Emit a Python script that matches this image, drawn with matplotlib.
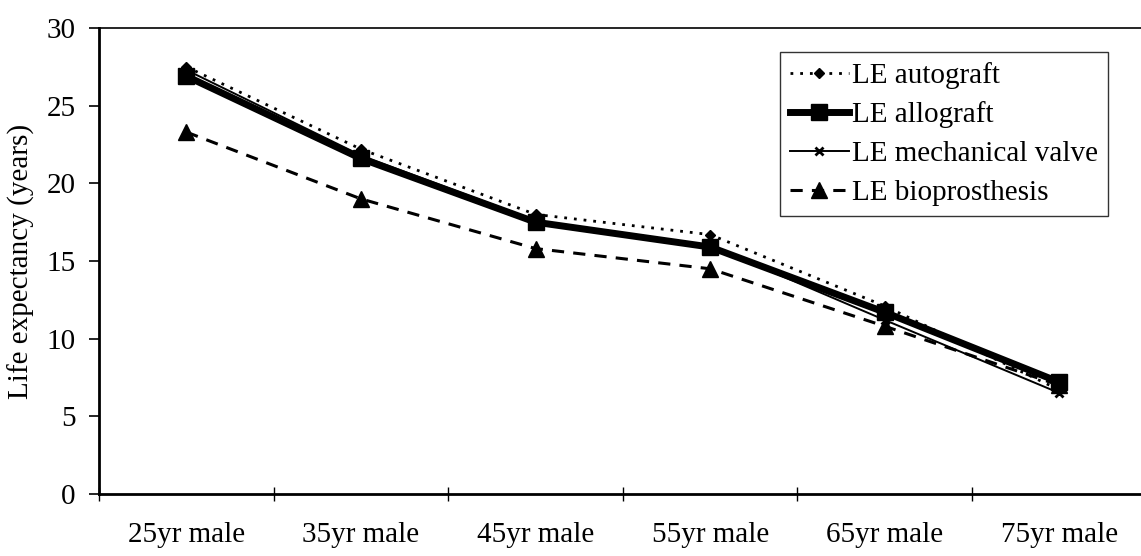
import numpy as np
import matplotlib.pyplot as plt
from matplotlib.ticker import FixedLocator


categories = ["25yr male", "35yr male", "45yr male", "55yr male", "65yr male", "75yr male"]
le_autograft = [27.5, 22.2, 18.0, 16.7, 12.1, 6.7]
le_allograft = [26.9, 21.6, 17.5, 15.9, 11.7, 7.2]
le_mechanical = [27.3, 21.8, 17.6, 16.0, 11.2, 6.5]
le_bioprosthesis = [23.3, 19.0, 15.8, 14.5, 10.8, 7.0]

plt.rcParams['font.family'] = ['Liberation Serif', 'DejaVu Serif']

x = np.arange(len(categories))

fig = plt.figure(figsize=(11.41, 5.56), dpi=100)
ax = fig.add_axes([0.0868, 0.1115, 0.9182, 0.8381])

ax.plot(x, le_autograft, color='black', linestyle=(0, (1, 2.5)), linewidth=2,
        marker='D', markersize=5, label="LE autograft")
ax.plot(x, le_allograft, color='black', linestyle='-', linewidth=5,
        marker='s', markersize=12, label="LE allograft")
ax.plot(x, le_mechanical, color='black', linestyle='-', linewidth=1.4,
        marker='x', markersize=6, markeredgewidth=2, label="LE mechanical valve")
ax.plot(x, le_bioprosthesis, color='black', linestyle=(0, (4, 3)), linewidth=2.2,
        marker='^', markersize=11, label="LE bioprosthesis")

ax.set_xlim(-0.5, len(categories) - 0.5)
ax.set_ylim(0, 30)
ax.set_yticks(np.arange(0, 31, 5))
ax.set_xticks(x)
ax.set_xticklabels(categories)
ax.xaxis.set_minor_locator(FixedLocator(np.arange(-0.5, len(categories), 1.0)))
ax.tick_params(axis='x', which='major', length=0, pad=20, labelsize=21)
ax.tick_params(axis='x', which='minor', length=10, direction='inout', width=1)
ax.tick_params(axis='y', length=7, width=1.2, labelsize=21, pad=10)

ax.spines['left'].set_linewidth(2)
ax.spines['bottom'].set_linewidth(2)
ax.spines['top'].set_linewidth(1.2)
ax.spines['right'].set_visible(False)

ax.set_ylabel("Life expectancy (years)", fontsize=21, labelpad=8)

leg = ax.legend(loc='upper right', bbox_to_anchor=(0.9628, 0.9485), fontsize=21,
                frameon=True, fancybox=False, handlelength=2.0, handletextpad=0.1,
                borderpad=0.35, labelspacing=0.42, borderaxespad=0)
leg.get_frame().set_edgecolor('black')
leg.get_frame().set_linewidth(1)

plt.savefig("out.png", dpi=100)
